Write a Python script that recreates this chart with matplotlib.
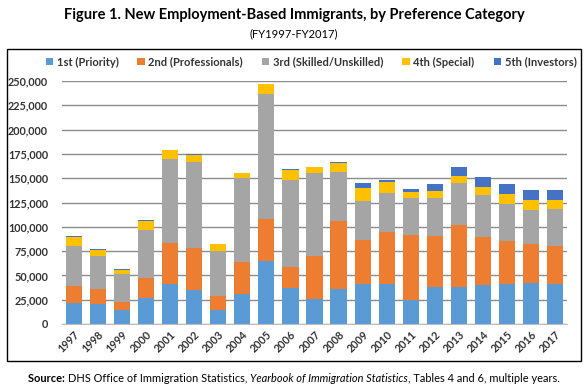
import numpy as np
import matplotlib
matplotlib.use("Agg")
import matplotlib.pyplot as plt
from matplotlib.patches import Rectangle
from matplotlib.ticker import FuncFormatter

plt.rcParams['font.family'] = ['Lato', 'DejaVu Sans']

years = [str(y) for y in range(1997, 2018)]

# Werte je Kategorie
first = [21400, 20700, 14500, 26900, 41400, 34500, 14500, 31000, 64500, 36900, 25500,
         36200, 40700, 40700, 24800, 38300, 38300, 40000, 41100, 42400, 40700]
second = [17600, 14800, 8300, 20000, 42400, 43800, 14500, 32800, 43100, 21700, 44900,
          70100, 46200, 53800, 67000, 52400, 63500, 49000, 44800, 39700, 39700]
third = [41400, 34200, 28200, 49700, 85900, 88000, 45900, 86300, 128700, 89800, 84900,
         49600, 39700, 40100, 37600, 38700, 43100, 43500, 37600, 35200, 37600]
fourth = [9300, 6900, 4900, 9700, 9000, 7900, 6900, 4800, 10700, 10300, 5800,
          9700, 13500, 11400, 6500, 7900, 7600, 8300, 10400, 10400, 9700]
fifth = [900, 900, 900, 700, 300, 700, 200, 400, 200, 300, 700,
         900, 4500, 2000, 3500, 6900, 8600, 10700, 10000, 10300, 10300]

labels = ["1st (Priority)", "2nd (Professionals)", "3rd (Skilled/Unskilled)",
          "4th (Special)", "5th (Investors)"]
colors = ["#5B9BD5", "#ED7D31", "#A5A5A5", "#FFC000", "#4472C4"]

fig = plt.figure(figsize=(5.88, 3.89), dpi=100)
ax = fig.add_axes([62 / 588, 1 - 324 / 389, 505 / 588, 243 / 389])

x = np.arange(len(years))
bottom = np.zeros(len(years))
for vals, lab, col in zip([first, second, third, fourth, fifth], labels, colors):
    ax.bar(x, vals, 0.67, bottom=bottom, color=col, label=lab, zorder=3)
    bottom += np.array(vals)

ax.set_xlim(-0.5, len(years) - 0.5)
ax.set_ylim(0, 250000)
ax.set_yticks(np.arange(0, 250001, 25000))
ax.yaxis.set_major_formatter(FuncFormatter(lambda v, p: f"{int(v):,}"))
ax.grid(axis="y", color="#8c8c8c", linewidth=1.0, zorder=0)
for s in ["top", "right", "left"]:
    ax.spines[s].set_visible(False)
ax.spines["bottom"].set_color("#bfbfbf")
ax.tick_params(axis="both", length=0, labelsize=7.8)
ax.tick_params(axis="y", pad=10)
ax.set_xticks(x)
ax.set_xticklabels(years, rotation=45, ha="right", rotation_mode="anchor")
for t in ax.get_xticklabels() + ax.get_yticklabels():
    t.set_fontweight("bold")
    t.set_color("#333333")

leg = fig.legend(loc="center", bbox_to_anchor=(311 / 588, 1 - 62 / 389), ncol=5,
                 frameon=False, fontsize=8.0, handlelength=0.65, handleheight=0.65,
                 handletextpad=0.35, columnspacing=1.7, borderpad=0, borderaxespad=0)
for t in leg.get_texts():
    t.set_fontweight("bold")
    t.set_color("#333333")

# Rahmen um das Diagramm
fig.patches.append(Rectangle((7 / 588, 1 - 361 / 389), 574 / 588, 312 / 389,
                             transform=fig.transFigure, fill=False,
                             edgecolor="black", linewidth=1.0))

fig.text(0.5, 1 - 15 / 389, "Figure 1. New Employment-Based Immigrants, by Preference Category",
         ha="center", va="center", fontsize=10.5, fontweight="bold")
fig.text(0.5, 1 - 34 / 389, "(FY1997-FY2017)", ha="center", va="center", fontsize=8)

# Quellenangabe mit gemischten Schriftschnitten
parts = [("Source: ", "bold", "normal"),
         ("DHS Office of Immigration Statistics, ", "normal", "normal"),
         ("Yearbook of Immigration Statistics", "normal", "italic"),
         (", Tables 4 and 6, multiple years.", "normal", "normal")]
renderer = fig.canvas.get_renderer()
objs = []
for txt, w, st in parts:
    objs.append(fig.text(0, 1 - 378 / 389, txt, fontsize=7.9, fontweight=w, fontstyle=st,
                         va="center", ha="left"))
widths = [o.get_window_extent(renderer).width for o in objs]
xpos = (588 - sum(widths)) / 2
for o, w in zip(objs, widths):
    o.set_x(xpos / 588)
    xpos += w

fig.savefig("out.png", dpi=100)
